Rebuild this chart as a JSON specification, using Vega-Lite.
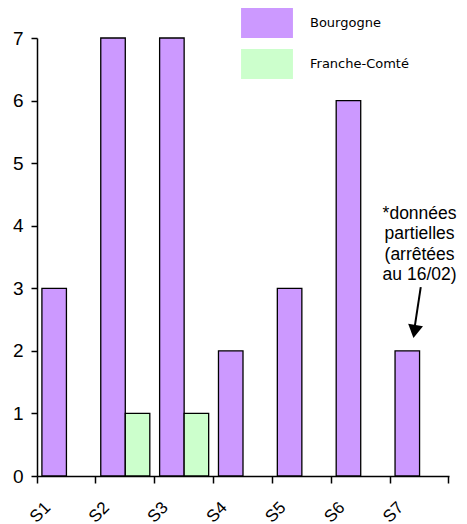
{
  "$schema": "https://vega.github.io/schema/vega-lite/v6.json",
  "width": 412,
  "height": 438,
  "autosize": {"type": "none"},
  "padding": {"left": 37, "top": 38, "right": 18, "bottom": 48},
  "background": "white",
  "config": {
    "view": {"stroke": null},
    "font": "Liberation Sans, Arial, sans-serif",
    "axisY": {
      "labelFont": "Liberation Sans, Arial, sans-serif",
      "labelFontSize": 19,
      "labelColor": "black",
      "labelPadding": 8,
      "tickSize": 6,
      "tickWidth": 1.5,
      "tickColor": "black",
      "domainColor": "black",
      "domainWidth": 1.5,
      "grid": false
    },
    "axisX": {
      "labelFont": "Liberation Sans, Arial, sans-serif",
      "labelFontSize": 17,
      "labelColor": "black",
      "tickSize": 7,
      "tickWidth": 1.5,
      "tickColor": "black",
      "domainColor": "black",
      "domainWidth": 1.5,
      "grid": false
    }
  },
  "layer": [
    {
      "data": {
        "values": [
          {"semaine": "S1", "region": "Bourgogne", "cas": 3},
          {"semaine": "S2", "region": "Bourgogne", "cas": 7},
          {"semaine": "S2", "region": "Franche-Comté", "cas": 1},
          {"semaine": "S3", "region": "Bourgogne", "cas": 7},
          {"semaine": "S3", "region": "Franche-Comté", "cas": 1},
          {"semaine": "S4", "region": "Bourgogne", "cas": 2},
          {"semaine": "S5", "region": "Bourgogne", "cas": 3},
          {"semaine": "S6", "region": "Bourgogne", "cas": 6},
          {"semaine": "S7", "region": "Bourgogne", "cas": 2}
        ]
      },
      "mark": {"type": "bar", "stroke": "black", "strokeWidth": 1.3},
      "encoding": {
        "x": {
          "field": "semaine",
          "type": "nominal",
          "scale": {
            "domain": ["S1", "S2", "S3", "S4", "S5", "S6", "S7"],
            "paddingInner": 0,
            "paddingOuter": 0
          },
          "axis": {
            "title": null,
            "labelAngle": -45,
            "labelAlign": "center",
            "labelBaseline": "middle",
            "labelPadding": 29,
            "labelOffset": -26,
            "labelOverlap": false,
            "bandPosition": 1,
            "tickExtra": true
          }
        },
        "xOffset": {
          "field": "region",
          "scale": {
            "domain": ["Bourgogne", "Franche-Comté"],
            "paddingInner": 0,
            "paddingOuter": 0.2
          }
        },
        "y": {
          "field": "cas",
          "type": "quantitative",
          "scale": {"domain": [0, 7], "nice": false},
          "axis": {"title": null, "values": [0, 1, 2, 3, 4, 5, 6, 7], "format": "d"}
        },
        "color": {
          "field": "region",
          "type": "nominal",
          "scale": {
            "domain": ["Bourgogne", "Franche-Comté"],
            "range": ["#CC99FF", "#CCFFCC"]
          },
          "legend": {
            "title": null,
            "orient": "none",
            "legendX": 215,
            "legendY": -30,
            "padding": 0,
            "symbolType": "M-1.73,-1H1.73V1H-1.73Z",
            "symbolSize": 900,
            "symbolStrokeWidth": 0,
            "symbolOpacity": 1,
            "labelOffset": 28,
            "rowPadding": 11,
            "labelFont": "DejaVu Sans",
            "labelFontSize": 13,
            "labelColor": "black"
          }
        }
      }
    },
    {
      "layer": [
        {
          "data": {
            "values": [
              {"x": 6.5, "y": 4.115, "note": "*données\npartielles\n(arrêtées\nau 16/02)"}
            ]
          },
          "mark": {
            "type": "text",
            "font": "Liberation Sans, Arial, sans-serif",
            "fontSize": 17.5,
            "lineHeight": 20.6,
            "align": "center",
            "baseline": "alphabetic",
            "lineBreak": "\n",
            "color": "black"
          },
          "encoding": {
            "x": {"field": "x", "type": "quantitative", "scale": {"domain": [0, 7], "nice": false, "zero": false}, "axis": null},
            "y": {"field": "y", "type": "quantitative", "scale": {"domain": [0, 7], "nice": false}, "axis": {"title": null, "values": [0, 1, 2, 3, 4, 5, 6, 7], "format": "d"}},
            "text": {"field": "note"}
          }
        },
        {
          "data": {
            "values": [
              {"x": 6.52, "y": 3.02, "x2": 6.42, "y2": 2.4}
            ]
          },
          "mark": {"type": "rule", "color": "black", "strokeWidth": 2},
          "encoding": {
            "x": {"field": "x", "type": "quantitative", "scale": {"domain": [0, 7], "nice": false, "zero": false}, "axis": null},
            "y": {"field": "y", "type": "quantitative", "scale": {"domain": [0, 7], "nice": false}, "axis": {"title": null, "values": [0, 1, 2, 3, 4, 5, 6, 7], "format": "d"}},
            "x2": {"field": "x2"},
            "y2": {"field": "y2"}
          }
        },
        {
          "data": {
            "values": [
              {"x": 6.414, "y": 2.309}
            ]
          },
          "mark": {
            "type": "point",
            "shape": "M-1,-0.87L1,-0.87L0,0.87Z",
            "size": 225,
            "filled": true,
            "color": "black",
            "opacity": 1,
            "strokeWidth": 0,
            "angle": 9.5
          },
          "encoding": {
            "x": {"field": "x", "type": "quantitative", "scale": {"domain": [0, 7], "nice": false, "zero": false}, "axis": null},
            "y": {"field": "y", "type": "quantitative", "scale": {"domain": [0, 7], "nice": false}, "axis": {"title": null, "values": [0, 1, 2, 3, 4, 5, 6, 7], "format": "d"}}
          }
        }
      ]
    }
  ],
  "resolve": {"scale": {"x": "independent"}}
}
